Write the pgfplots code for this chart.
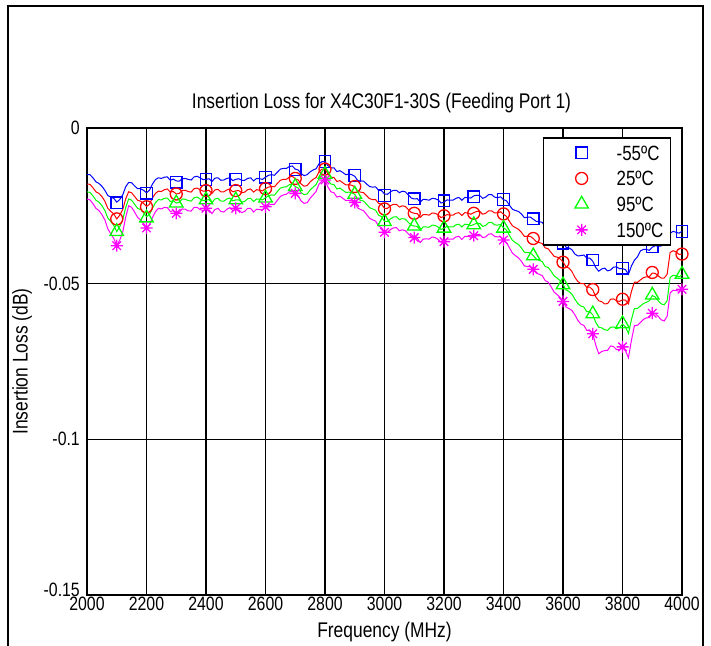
\documentclass[border=0pt]{standalone}
\usepackage{fontspec}
\setmainfont{Liberation Sans}[FakeStretch=0.82]
\usepackage{pgfplots}
\usepackage{pgfplotstable}
\pgfplotsset{compat=1.18}

\definecolor{cB}{RGB}{0,0,255}
\definecolor{cR}{RGB}{255,0,0}
\definecolor{cG}{RGB}{0,255,0}
\definecolor{cM}{RGB}{255,0,255}

\pgfdeclareplotmark{ast8}{%
  \pgfpathmoveto{\pgfqpoint{-\pgfplotmarksize}{0pt}}\pgfpathlineto{\pgfqpoint{\pgfplotmarksize}{0pt}}%
  \pgfpathmoveto{\pgfqpoint{0pt}{-\pgfplotmarksize}}\pgfpathlineto{\pgfqpoint{0pt}{\pgfplotmarksize}}%
  \pgfpathmoveto{\pgfpoint{-0.707\pgfplotmarksize}{-0.707\pgfplotmarksize}}\pgfpathlineto{\pgfpoint{0.707\pgfplotmarksize}{0.707\pgfplotmarksize}}%
  \pgfpathmoveto{\pgfpoint{-0.707\pgfplotmarksize}{0.707\pgfplotmarksize}}\pgfpathlineto{\pgfpoint{0.707\pgfplotmarksize}{-0.707\pgfplotmarksize}}%
  \pgfusepathqstroke}

\pgfplotstableread{
f b r g m
2000 -0.0150 -0.0180 -0.0205 -0.0228
2010 -0.0150 -0.0181 -0.0207 -0.0231
2020 -0.0160 -0.0192 -0.0218 -0.0243
2030 -0.0173 -0.0205 -0.0232 -0.0258
2040 -0.0178 -0.0210 -0.0238 -0.0265
2050 -0.0187 -0.0220 -0.0249 -0.0278
2060 -0.0200 -0.0235 -0.0265 -0.0295
2070 -0.0217 -0.0258 -0.0289 -0.0324
2080 -0.0222 -0.0268 -0.0300 -0.0340
2090 -0.0226 -0.0276 -0.0313 -0.0355
2100 -0.0238 -0.0292 -0.0333 -0.0378
2110 -0.0230 -0.0280 -0.0317 -0.0360
2120 -0.0215 -0.0262 -0.0295 -0.0335
2130 -0.0189 -0.0228 -0.0256 -0.0287
2140 -0.0175 -0.0205 -0.0228 -0.0250
2150 -0.0176 -0.0208 -0.0232 -0.0255
2160 -0.0186 -0.0220 -0.0245 -0.0270
2170 -0.0195 -0.0232 -0.0258 -0.0287
2180 -0.0195 -0.0235 -0.0262 -0.0295
2190 -0.0200 -0.0242 -0.0272 -0.0306
2200 -0.0208 -0.0252 -0.0285 -0.0320
2210 -0.0200 -0.0245 -0.0278 -0.0310
2220 -0.0180 -0.0225 -0.0258 -0.0288
2230 -0.0166 -0.0210 -0.0240 -0.0269
2240 -0.0160 -0.0203 -0.0230 -0.0258
2250 -0.0162 -0.0204 -0.0231 -0.0260
2260 -0.0158 -0.0198 -0.0226 -0.0255
2270 -0.0157 -0.0196 -0.0225 -0.0256
2280 -0.0168 -0.0206 -0.0236 -0.0268
2290 -0.0164 -0.0204 -0.0234 -0.0266
2300 -0.0170 -0.0212 -0.0241 -0.0274
2310 -0.0171 -0.0210 -0.0239 -0.0271
2320 -0.0163 -0.0200 -0.0228 -0.0260
2330 -0.0162 -0.0200 -0.0229 -0.0261
2340 -0.0165 -0.0204 -0.0233 -0.0266
2350 -0.0167 -0.0206 -0.0235 -0.0267
2360 -0.0157 -0.0195 -0.0224 -0.0255
2370 -0.0155 -0.0193 -0.0222 -0.0255
2380 -0.0160 -0.0198 -0.0228 -0.0262
2390 -0.0166 -0.0203 -0.0233 -0.0265
2400 -0.0165 -0.0202 -0.0232 -0.0262
2410 -0.0163 -0.0200 -0.0230 -0.0263
2420 -0.0172 -0.0210 -0.0240 -0.0275
2430 -0.0161 -0.0199 -0.0228 -0.0262
2440 -0.0160 -0.0197 -0.0226 -0.0258
2450 -0.0168 -0.0205 -0.0235 -0.0268
2460 -0.0167 -0.0205 -0.0235 -0.0270
2470 -0.0162 -0.0199 -0.0228 -0.0261
2480 -0.0160 -0.0196 -0.0225 -0.0256
2490 -0.0169 -0.0205 -0.0234 -0.0265
2500 -0.0165 -0.0202 -0.0231 -0.0262
2510 -0.0163 -0.0201 -0.0231 -0.0263
2520 -0.0168 -0.0208 -0.0238 -0.0272
2530 -0.0168 -0.0206 -0.0236 -0.0268
2540 -0.0162 -0.0198 -0.0227 -0.0258
2550 -0.0160 -0.0196 -0.0226 -0.0258
2560 -0.0170 -0.0206 -0.0236 -0.0270
2570 -0.0162 -0.0198 -0.0228 -0.0261
2580 -0.0163 -0.0200 -0.0229 -0.0262
2590 -0.0165 -0.0202 -0.0231 -0.0263
2600 -0.0158 -0.0195 -0.0224 -0.0255
2610 -0.0152 -0.0190 -0.0218 -0.0248
2620 -0.0150 -0.0188 -0.0215 -0.0245
2630 -0.0152 -0.0189 -0.0216 -0.0245
2640 -0.0142 -0.0178 -0.0204 -0.0232
2650 -0.0132 -0.0168 -0.0193 -0.0220
2660 -0.0130 -0.0165 -0.0190 -0.0215
2670 -0.0130 -0.0165 -0.0189 -0.0213
2680 -0.0124 -0.0158 -0.0182 -0.0205
2690 -0.0122 -0.0155 -0.0179 -0.0203
2700 -0.0132 -0.0163 -0.0188 -0.0212
2710 -0.0135 -0.0167 -0.0193 -0.0219
2720 -0.0147 -0.0180 -0.0208 -0.0235
2730 -0.0153 -0.0187 -0.0214 -0.0242
2740 -0.0150 -0.0185 -0.0212 -0.0240
2750 -0.0141 -0.0173 -0.0199 -0.0226
2760 -0.0135 -0.0165 -0.0190 -0.0215
2770 -0.0131 -0.0159 -0.0182 -0.0204
2780 -0.0115 -0.0140 -0.0162 -0.0180
2790 -0.0108 -0.0132 -0.0152 -0.0170
2800 -0.0108 -0.0132 -0.0150 -0.0168
2810 -0.0121 -0.0148 -0.0168 -0.0190
2820 -0.0128 -0.0158 -0.0180 -0.0205
2830 -0.0128 -0.0159 -0.0182 -0.0208
2840 -0.0140 -0.0172 -0.0196 -0.0222
2850 -0.0137 -0.0169 -0.0193 -0.0219
2860 -0.0143 -0.0176 -0.0200 -0.0226
2870 -0.0150 -0.0183 -0.0207 -0.0233
2880 -0.0148 -0.0182 -0.0206 -0.0232
2890 -0.0150 -0.0184 -0.0208 -0.0234
2900 -0.0155 -0.0189 -0.0213 -0.0240
2910 -0.0169 -0.0204 -0.0229 -0.0257
2920 -0.0170 -0.0206 -0.0232 -0.0262
2930 -0.0171 -0.0208 -0.0235 -0.0266
2940 -0.0180 -0.0218 -0.0245 -0.0278
2950 -0.0188 -0.0227 -0.0256 -0.0290
2960 -0.0190 -0.0230 -0.0260 -0.0295
2970 -0.0189 -0.0230 -0.0264 -0.0299
2980 -0.0200 -0.0242 -0.0280 -0.0315
2990 -0.0201 -0.0245 -0.0285 -0.0320
3000 -0.0212 -0.0258 -0.0300 -0.0335
3010 -0.0213 -0.0258 -0.0300 -0.0335
3020 -0.0205 -0.0250 -0.0292 -0.0326
3030 -0.0200 -0.0245 -0.0286 -0.0321
3040 -0.0200 -0.0245 -0.0285 -0.0320
3050 -0.0208 -0.0254 -0.0294 -0.0330
3060 -0.0203 -0.0250 -0.0291 -0.0327
3070 -0.0205 -0.0252 -0.0293 -0.0330
3080 -0.0215 -0.0262 -0.0303 -0.0340
3090 -0.0225 -0.0271 -0.0312 -0.0349
3100 -0.0228 -0.0274 -0.0315 -0.0352
3110 -0.0227 -0.0275 -0.0316 -0.0354
3120 -0.0238 -0.0287 -0.0328 -0.0368
3130 -0.0229 -0.0278 -0.0318 -0.0357
3140 -0.0230 -0.0278 -0.0318 -0.0356
3150 -0.0232 -0.0280 -0.0319 -0.0357
3160 -0.0226 -0.0273 -0.0312 -0.0350
3170 -0.0227 -0.0274 -0.0313 -0.0352
3180 -0.0231 -0.0279 -0.0318 -0.0358
3190 -0.0241 -0.0288 -0.0326 -0.0367
3200 -0.0238 -0.0284 -0.0322 -0.0364
3210 -0.0231 -0.0278 -0.0316 -0.0357
3220 -0.0232 -0.0280 -0.0318 -0.0357
3230 -0.0232 -0.0280 -0.0318 -0.0357
3240 -0.0226 -0.0274 -0.0311 -0.0350
3250 -0.0223 -0.0272 -0.0309 -0.0348
3260 -0.0232 -0.0281 -0.0318 -0.0358
3270 -0.0223 -0.0272 -0.0309 -0.0348
3280 -0.0224 -0.0273 -0.0310 -0.0348
3290 -0.0225 -0.0277 -0.0314 -0.0351
3300 -0.0218 -0.0272 -0.0310 -0.0346
3310 -0.0216 -0.0268 -0.0306 -0.0342
3320 -0.0217 -0.0268 -0.0306 -0.0342
3330 -0.0226 -0.0277 -0.0316 -0.0352
3340 -0.0222 -0.0274 -0.0313 -0.0350
3350 -0.0214 -0.0266 -0.0304 -0.0341
3360 -0.0214 -0.0266 -0.0303 -0.0340
3370 -0.0222 -0.0273 -0.0311 -0.0348
3380 -0.0224 -0.0273 -0.0312 -0.0350
3390 -0.0221 -0.0269 -0.0310 -0.0349
3400 -0.0230 -0.0277 -0.0320 -0.0360
3410 -0.0234 -0.0284 -0.0328 -0.0368
3420 -0.0248 -0.0300 -0.0345 -0.0385
3430 -0.0261 -0.0314 -0.0361 -0.0402
3440 -0.0265 -0.0320 -0.0368 -0.0410
3450 -0.0268 -0.0325 -0.0374 -0.0417
3460 -0.0276 -0.0335 -0.0385 -0.0428
3470 -0.0288 -0.0348 -0.0399 -0.0443
3480 -0.0287 -0.0348 -0.0400 -0.0445
3490 -0.0286 -0.0348 -0.0401 -0.0446
3500 -0.0293 -0.0355 -0.0410 -0.0455
3510 -0.0300 -0.0365 -0.0421 -0.0466
3520 -0.0301 -0.0368 -0.0425 -0.0470
3530 -0.0303 -0.0371 -0.0429 -0.0474
3540 -0.0316 -0.0385 -0.0445 -0.0490
3550 -0.0321 -0.0388 -0.0448 -0.0495
3560 -0.0335 -0.0400 -0.0460 -0.0510
3570 -0.0347 -0.0412 -0.0475 -0.0527
3580 -0.0350 -0.0415 -0.0482 -0.0535
3590 -0.0357 -0.0420 -0.0490 -0.0544
3600 -0.0368 -0.0430 -0.0503 -0.0557
3610 -0.0383 -0.0446 -0.0520 -0.0575
3620 -0.0385 -0.0450 -0.0525 -0.0580
3630 -0.0391 -0.0461 -0.0534 -0.0586
3640 -0.0405 -0.0480 -0.0550 -0.0600
3650 -0.0411 -0.0493 -0.0564 -0.0618
3660 -0.0410 -0.0500 -0.0572 -0.0630
3670 -0.0408 -0.0500 -0.0575 -0.0634
3680 -0.0418 -0.0512 -0.0590 -0.0650
3690 -0.0418 -0.0511 -0.0590 -0.0650
3700 -0.0428 -0.0520 -0.0600 -0.0660
3710 -0.0448 -0.0542 -0.0624 -0.0697
3720 -0.0460 -0.0555 -0.0640 -0.0725
3730 -0.0453 -0.0558 -0.0642 -0.0718
3740 -0.0450 -0.0565 -0.0648 -0.0715
3750 -0.0459 -0.0564 -0.0650 -0.0714
3760 -0.0456 -0.0550 -0.0640 -0.0700
3770 -0.0447 -0.0549 -0.0639 -0.0702
3780 -0.0446 -0.0555 -0.0645 -0.0712
3790 -0.0452 -0.0557 -0.0641 -0.0712
3800 -0.0452 -0.0552 -0.0630 -0.0705
3810 -0.0455 -0.0553 -0.0639 -0.0716
3820 -0.0470 -0.0565 -0.0660 -0.0738
3830 -0.0443 -0.0525 -0.0615 -0.0682
3840 -0.0425 -0.0495 -0.0580 -0.0635
3850 -0.0414 -0.0496 -0.0580 -0.0634
3860 -0.0395 -0.0488 -0.0572 -0.0625
3870 -0.0390 -0.0481 -0.0564 -0.0615
3880 -0.0390 -0.0478 -0.0560 -0.0610
3890 -0.0393 -0.0478 -0.0555 -0.0609
3900 -0.0383 -0.0466 -0.0538 -0.0595
3910 -0.0378 -0.0467 -0.0543 -0.0596
3920 -0.0380 -0.0475 -0.0555 -0.0605
3930 -0.0379 -0.0482 -0.0565 -0.0616
3940 -0.0372 -0.0482 -0.0568 -0.0620
3950 -0.0360 -0.0470 -0.0555 -0.0605
3960 -0.0338 -0.0400 -0.0480 -0.0530
3970 -0.0332 -0.0394 -0.0473 -0.0521
3980 -0.0335 -0.0398 -0.0475 -0.0522
3990 -0.0338 -0.0406 -0.0478 -0.0524
4000 -0.0332 -0.0405 -0.0472 -0.0518
}\lines

\pgfplotstableread{
f b r g m
2100 -0.0240 -0.0292 -0.0333 -0.0378
2200 -0.0209 -0.0253 -0.0289 -0.0321
2300 -0.0174 -0.0212 -0.0241 -0.0274
2400 -0.0165 -0.0201 -0.0231 -0.0258
2500 -0.0165 -0.0201 -0.0231 -0.0258
2600 -0.0158 -0.0195 -0.0225 -0.0253
2700 -0.0133 -0.0162 -0.0188 -0.0210
2800 -0.0108 -0.0132 -0.0149 -0.0167
2900 -0.0153 -0.0188 -0.0213 -0.0239
3000 -0.0217 -0.0260 -0.0301 -0.0335
3100 -0.0227 -0.0274 -0.0315 -0.0352
3200 -0.0234 -0.0282 -0.0322 -0.0365
3300 -0.0221 -0.0274 -0.0311 -0.0346
3400 -0.0230 -0.0276 -0.0322 -0.0360
3500 -0.0292 -0.0355 -0.0411 -0.0454
3600 -0.0370 -0.0431 -0.0504 -0.0557
3700 -0.0424 -0.0519 -0.0597 -0.0661
3800 -0.0450 -0.0550 -0.0629 -0.0703
3900 -0.0382 -0.0464 -0.0537 -0.0595
4000 -0.0332 -0.0405 -0.0470 -0.0518
}\marks

\begin{document}
\begin{tikzpicture}[x=1bp,y=1bp]
\useasboundingbox (0,0) rectangle (711,646);
\draw[line width=2.2bp] (8,-2) -- (8,640) -- (703,640) -- (703,-2);
\begin{axis}[
  at={(87bp,51bp)}, anchor=south west,
  scale only axis, width=595bp, height=467bp,
  xmin=2000, xmax=4000, ymin=-0.15, ymax=0,
  xtick={2000,2200,...,4000},
  xticklabels={2000,2200,2400,2600,2800,3000,3200,3400,3600,3800,4000},
  ytick={-0.15,-0.1,-0.05,0},
  yticklabels={\raisebox{11bp}{-0.15},-0.1,-0.05,0},
  major tick length=0pt,
  grid=major,
  major grid style={black, line width=1.6bp},
  axis line style={black, line width=2.2bp},
  tick label style={font=\fontsize{19.4}{22}\selectfont},
  xticklabel style={inner ysep=1.5bp},
  yticklabel style={inner xsep=7bp},
  label style={font=\fontsize{21.3}{24}\selectfont},
  xlabel={Frequency (MHz)},
  xlabel style={at={(axis description cs:0.5,0)}, anchor=base, yshift=-43bp},
  ylabel={Insertion Loss (dB)},
  ylabel style={at={(axis description cs:-0.1092,0.5)}, anchor=center},
  title={Insertion Loss for X4C30F1-30S (Feeding Port 1)},
  title style={font=\fontsize{21.3}{24}\selectfont, at={(axis description cs:0.495,1.028)}, anchor=base},
  clip=false,
  legend style={at={(axis description cs:0.9815,0.9807)}, anchor=north east,
    draw=black, line width=1.5bp, fill=white, inner xsep=3.5bp, inner ysep=2.15bp,
    row sep=0bp,
    font=\fontsize{20.7}{24}\selectfont,
    nodes={inner xsep=3.5bp, inner ysep=0bp, text height=15bp, text depth=0bp}},
  legend cell align=left,
  legend image code/.code={\path[draw=none,fill=none] (-34.5bp,-12.85bp) rectangle (31.5bp,12.85bp); \draw[#1] plot coordinates {(0bp,0bp)};},
]
\addplot[cB, line width=1bp, forget plot] table[x=f,y=b] {\lines};
\addplot[cR, line width=1bp, forget plot] table[x=f,y=r] {\lines};
\addplot[cG, line width=1bp, forget plot] table[x=f,y=g] {\lines};
\addplot[cM, line width=1bp, forget plot] table[x=f,y=m] {\lines};
\addplot[cB, only marks, mark=square, mark size=5.8bp, line width=1.3bp] table[x=f,y=b] {\marks};
\addplot[cR, only marks, mark=o, mark size=6bp, line width=1.3bp] table[x=f,y=r] {\marks};
\addplot[cG, only marks, mark=triangle, mark size=7.8bp, line width=1.3bp] table[x=f,y=g] {\marks};
\addplot[cM, only marks, mark=ast8, mark size=6bp, line width=1.3bp] table[x=f,y=m] {\marks};
\legend{-55ºC,25ºC,95ºC,150ºC}
\end{axis}
\end{tikzpicture}
\end{document}
